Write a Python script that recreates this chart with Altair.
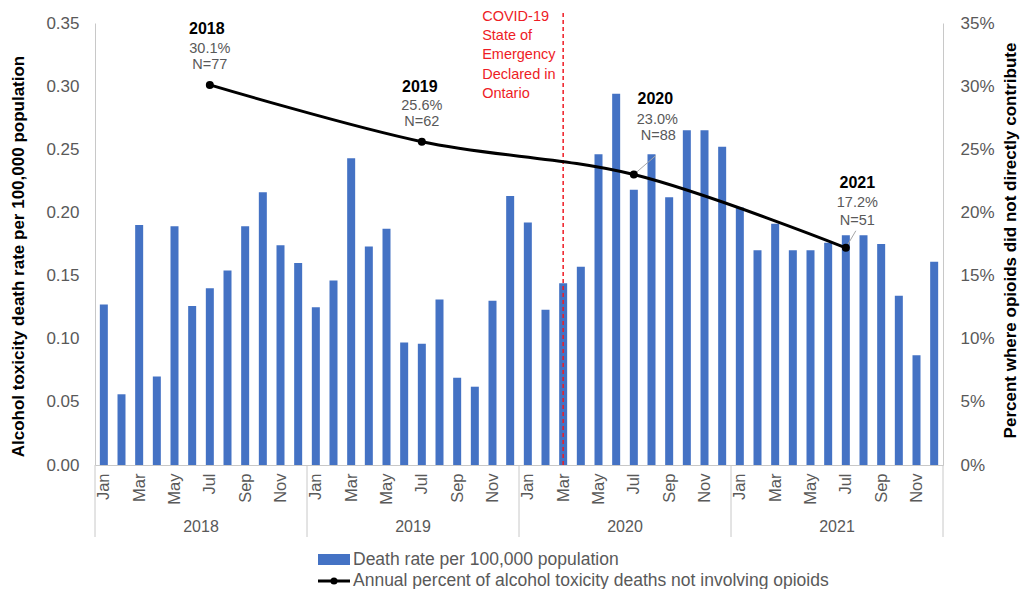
import altair as alt
import pandas as pd

# ---------------- data ----------------
years = [2018, 2019, 2020, 2021]
months = ["Jan", "Feb", "Mar", "Apr", "May", "Jun",
          "Jul", "Aug", "Sep", "Oct", "Nov", "Dec"]

rate_2018 = [0.127, 0.056, 0.190, 0.070, 0.189, 0.126, 0.140, 0.154, 0.189, 0.216, 0.174, 0.160]
rate_2019 = [0.125, 0.146, 0.243, 0.173, 0.187, 0.097, 0.096, 0.131, 0.069, 0.062, 0.130, 0.213]
rate_2020 = [0.192, 0.123, 0.144, 0.157, 0.246, 0.294, 0.218, 0.246, 0.212, 0.265, 0.265, 0.252]
rate_2021 = [0.204, 0.170, 0.191, 0.170, 0.170, 0.176, 0.182, 0.182, 0.175, 0.134, 0.087, 0.161]

pct_not_opioid = [0.301, 0.256, 0.230, 0.172]
n_deaths = [77, 62, 88, 51]
point_month = "Jul"

covid_year, covid_month = 2020, "Mar"
covid_label = ["COVID-19", "State of", "Emergency", "Declared in", "Ontario"]

legend_bar = "Death rate per 100,000 population"
legend_line = "Annual percent of alcohol toxicity deaths not involving opioids"

y_left_title = "Alcohol toxicity death rate per 100,000 population"
y_right_title = "Percent where opioids did not directly contribute"
left_ticks = [0, 0.05, 0.10, 0.15, 0.20, 0.25, 0.30, 0.35]
right_ticks = [0, 0.05, 0.10, 0.15, 0.20, 0.25, 0.30, 0.35]

# ---------------- tables ----------------
rates = [rate_2018, rate_2019, rate_2020, rate_2021]
rows = []
for yi, (yr, vals) in enumerate(zip(years, rates)):
    for mi, v in enumerate(vals):
        rows.append({"year": yr, "month": months[mi], "pos": yi * 12 + mi + 0.5, "rate": v})
bar_df = pd.DataFrame(rows)

line_df = pd.DataFrame({
    "year": years,
    "pos": [yi * 12 + months.index(point_month) + 0.5 for yi in range(len(years))],
    "pct": pct_not_opioid,
    "n": n_deaths,
})
line_df["year_label"] = line_df["year"].astype(str)
line_df["pct_label"] = [f"{p*100:.1f}%" for p in pct_not_opioid]
line_df["n_label"] = [f"N={n}" for n in n_deaths]

sep_df = pd.DataFrame({"pos": [12 * k for k in range(len(years) + 1)]})
year_df = pd.DataFrame({"pos": [12 * k + 6 for k in range(len(years))],
                        "label": [str(y) for y in years]})
covid_df = pd.DataFrame({"pos": [years.index(covid_year) * 12 + months.index(covid_month) + 0.5]})
leg_df = pd.DataFrame({"a": [0]})

# ---------------- style ----------------
W, H = 848, 442
FONT = "Liberation Sans"
GREY = "#595959"
AXIS = "#C8C8C8"
BLUE = "#4472C4"
RED = "#EE1C25"

xscale = alt.Scale(domain=[0, 48], nice=False, zero=False, padding=0)
yscale = alt.Scale(domain=[0, 0.35], nice=False, zero=False)
month_expr = "[" + ",".join(f"'{m}'" for m in months) + "][floor(datum.value) % 12]"

x_axis = alt.Axis(values=[i + 0.5 for i in range(0, 48, 2)], labelExpr=month_expr,
                  labelAngle=270, labelFontSize=16.5, labelColor=GREY, labelFont=FONT,
                  labelPadding=8, ticks=False, grid=False, domainColor=AXIS,
                  labelFlush=False, labelOverlap=False, title=None)


def X():
    return alt.X("pos:Q", scale=xscale, axis=x_axis)


bars = alt.Chart(bar_df).mark_bar(color=BLUE, size=8).encode(
    x=X(),
    y=alt.Y("rate:Q", scale=yscale,
            axis=alt.Axis(values=left_ticks, format=".2f", labelFontSize=17, labelColor=GREY,
                          labelFont=FONT, labelPadding=16, ticks=False, grid=False,
                          domainColor=AXIS, title=y_left_title, titleFont=FONT,
                          titleFontSize=17, titleFontWeight="bold", titleColor="black",
                          titleAngle=270, titleX=-76.5, titleY=233, titleAlign="center",
                          titleBaseline="middle")),
)

seps = alt.Chart(sep_df).mark_rule(color=AXIS, strokeWidth=1).encode(
    x=X(), y=alt.value(H), y2=alt.value(H + 72),
)

year_text = alt.Chart(year_df).mark_text(font=FONT, fontSize=16, color=GREY, baseline="middle").encode(
    x=X(), y=alt.value(H + 62), text="label:N",
)

covid_rule = alt.Chart(covid_df).mark_rule(color=RED, strokeDash=[4, 3], strokeWidth=1.5).encode(
    x=X(), y=alt.value(-10), y2=alt.value(H),
)

covid_text = alt.Chart(covid_df).mark_text(font=FONT, fontSize=14.5, color=RED, align="left",
                                           baseline="alphabetic", lineHeight=19.3, dx=-81).encode(
    x=X(), y=alt.value(-2.2), text=alt.value(covid_label),
)

leg_rect = alt.Chart(leg_df).mark_rect(color=BLUE).encode(
    x=alt.value(223), x2=alt.value(255), y=alt.value(531), y2=alt.value(542))
leg_text1 = alt.Chart(leg_df).mark_text(font=FONT, fontSize=17.5, color=GREY, align="left",
                                        baseline="middle").encode(
    x=alt.value(258), y=alt.value(536.5), text=alt.value(legend_bar))
leg_line = alt.Chart(leg_df).mark_rule(color="black", strokeWidth=3).encode(
    x=alt.value(223), x2=alt.value(255), y=alt.value(558))
leg_dot = alt.Chart(leg_df).mark_circle(color="black", size=50, opacity=1).encode(
    x=alt.value(239), y=alt.value(558))
leg_text2 = alt.Chart(leg_df).mark_text(font=FONT, fontSize=17.5, color=GREY, align="left",
                                        baseline="middle").encode(
    x=alt.value(258), y=alt.value(558), text=alt.value(legend_line))

line = alt.Chart(line_df).mark_line(color="black", strokeWidth=3, interpolate="catmull-rom").encode(
    x=X(),
    y=alt.Y("pct:Q", scale=yscale,
            axis=alt.Axis(orient="right", values=right_ticks, format=".0%", labelFontSize=17,
                          labelColor=GREY, labelFont=FONT, labelPadding=17, ticks=False,
                          grid=False, domainColor=AXIS, title=y_right_title, titleFont=FONT,
                          titleFontSize=17, titleFontWeight="bold", titleColor="black",
                          titleAngle=270, titleX=67.5, titleY=217, titleAlign="center",
                          titleBaseline="middle")),
)

layers = [bars, seps, year_text, covid_rule, covid_text,
          leg_rect, leg_text1, leg_line, leg_dot, leg_text2, line]

offsets = {
    2018: {"year": (-3, -56), "pct": (0, -36), "n": (0, -20)},
    2019: {"year": (-2, -54.5), "pct": (0, -36), "n": (0, -19.5)},
    2020: {"year": (21.5, -75.5), "pct": (23.5, -55), "n": (24.5, -38.5), "leader": (22, -19)},
    2021: {"year": (11.5, -64.5), "pct": (11.5, -44.5), "n": (11.5, -27), "leader": (10, -17)},
}

for yr in years:
    base = alt.Chart(line_df[line_df["year"] == yr])
    off = offsets[yr]
    enc = dict(x=X(), y=alt.Y("pct:Q", scale=yscale, axis=None))
    if "leader" in off:
        layers.append(base.mark_rule(color="#A6A6A6", strokeWidth=1,
                                     x2Offset=off["leader"][0],
                                     y2Offset=off["leader"][1]).encode(
            x2="pos:Q", y2="pct:Q", **enc))
    layers.append(base.mark_text(font=FONT, fontSize=16, fontWeight="bold", color="black",
                                 baseline="middle", dx=off["year"][0], dy=off["year"][1]).encode(
        text="year_label:N", **enc))
    layers.append(base.mark_text(font=FONT, fontSize=14.5, color=GREY,
                                 baseline="middle", dx=off["pct"][0], dy=off["pct"][1]).encode(
        text="pct_label:N", **enc))
    layers.append(base.mark_text(font=FONT, fontSize=14.5, color=GREY,
                                 baseline="middle", dx=off["n"][0], dy=off["n"][1]).encode(
        text="n_label:N", **enc))

points = alt.Chart(line_df).mark_circle(color="black", size=64, opacity=1).encode(
    x=X(), y=alt.Y("pct:Q", scale=yscale, axis=None),
)
layers.append(points)

chart = alt.layer(*layers).resolve_scale(y="independent").properties(
    width=W, height=H,
    padding={"left": 87, "top": 15, "right": 77, "bottom": 124},
    autosize=alt.AutoSizeParams(type="none"),
).configure_view(stroke=None)

chart.save("out.html", embed_options={"renderer": "svg", "actions": False})
